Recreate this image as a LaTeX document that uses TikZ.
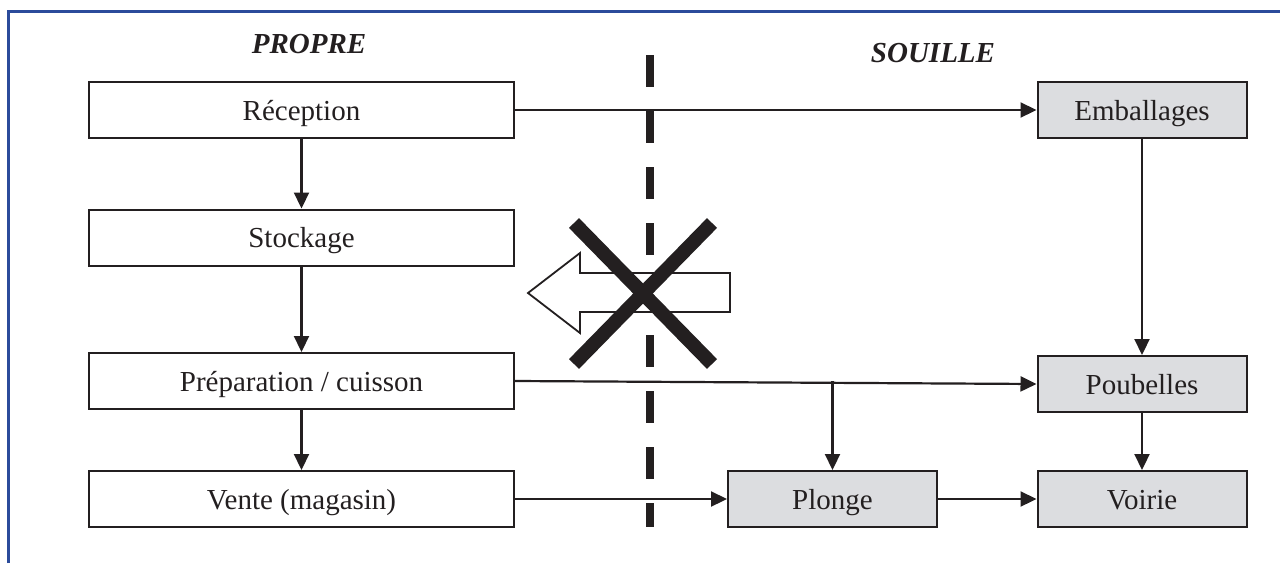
\documentclass[tikz,border=0pt]{standalone}
\usepackage{fontspec}
\setmainfont{Liberation Serif}
\usetikzlibrary{arrows.meta}
\definecolor{ink}{HTML}{231F20}
\definecolor{boxgray}{HTML}{DCDDE0}
\definecolor{frameblue}{HTML}{2B4B9B}
\begin{document}
\begin{tikzpicture}[x=1pt,y=-1pt,
  every node/.style={text=ink,font=\fontsize{29}{34}\selectfont},
  leftbox/.style={draw=ink,line width=2pt,fill=white,minimum width=425pt,minimum height=56pt,inner sep=0pt,text height=20pt,text depth=0pt},
  rightbox/.style={draw=ink,line width=2pt,fill=boxgray,minimum width=209pt,minimum height=56pt,inner sep=0pt,text height=20pt,text depth=0pt},
  flow/.style={draw=ink,line width=2.2pt,-{Triangle[length=16pt,width=15pt]}},
  title/.style={font=\fontsize{29}{34}\selectfont\bfseries\itshape,text height=20pt,text depth=0pt,inner sep=0pt}]
\useasboundingbox (0,0) rectangle (1280,563);
\fill[white] (0,0) rectangle (1280,563);
% frame
\draw[frameblue,line width=3pt] (8,563) -- (8,11) -- (1280,11);
% titles
\node[title] (propre) at (309,43) {PROPRE};
\node[title] (souille) at (933,52) {SOUILLE};
% boxes
\node[leftbox] (rec) at (301.5,110) {Réception};
\node[leftbox] (sto) at (301.5,237.5) {Stockage};
\node[leftbox] (pre) at (301.5,381) {Préparation / cuisson};
\node[leftbox] (ven) at (301.5,499) {Vente (magasin)};
\node[rightbox] (emb) at (1142,110) {Emballages};
\node[rightbox] (pou) at (1142,384) {Poubelles};
\node[rightbox] (voi) at (1142,499) {Voirie};
\node[rightbox] (plo) at (832.5,499) {Plonge};
% connectors
\draw[flow] (rec.east) -- (emb.west);
\draw[flow] (rec.south) -- (sto.north);
\draw[flow] (sto.south) -- (pre.north);
\draw[flow] (pre.south) -- (ven.north);
\draw[flow] (emb.south) -- (pou.north);
\draw[flow] (pre.east) -- (pou.west);
\coordinate (branch) at (plo.north |- pre.east);
\draw[flow] (branch) -- (plo.north);
\draw[flow] (ven.east) -- (plo.west);
\draw[flow] (plo.east) -- (voi.west);
\draw[flow] (pou.south) -- (voi.north);
% dashed separator
\coordinate (septop) at (650,55);
\coordinate (sepbot) at (650,527);
\draw[ink,line width=8pt,dash pattern=on 32pt off 24pt] (septop) -- (sepbot);
% hollow arrow
\draw[ink,line width=1.8pt,fill=white,line join=miter]
  (528,293) -- (580,253) -- (580,273) -- (730,273) -- (730,312) -- (580,312) -- (580,333) -- cycle;
% cross
\draw[ink,line width=14pt] (574,223) -- (712,364);
\draw[ink,line width=14pt] (712,223) -- (574,364);
\end{tikzpicture}
\end{document}
